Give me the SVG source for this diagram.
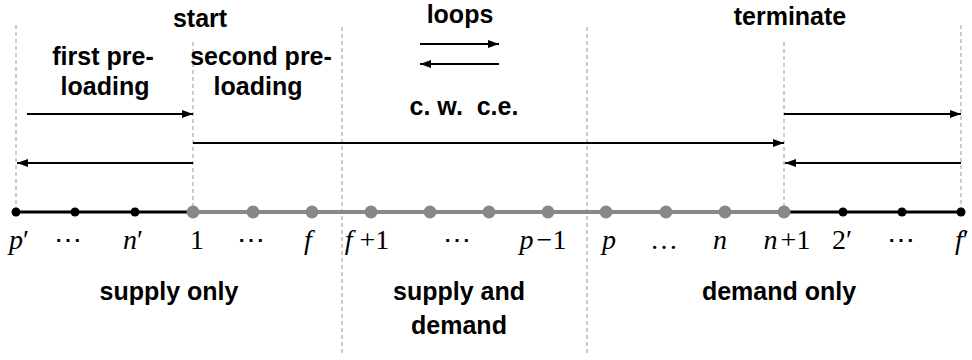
<svg xmlns="http://www.w3.org/2000/svg" width="972" height="360" viewBox="0 0 972 360">
<defs>
<marker id="ah" markerUnits="userSpaceOnUse" markerWidth="12" markerHeight="10" refX="11" refY="5" orient="auto">
<path d="M0,1 L11,5 L0,9 Z" fill="#000"/>
</marker>
<style>
.lbl{font-family:"Liberation Sans",Arial,sans-serif;font-weight:bold;font-size:25px;fill:#000;text-anchor:middle}
.m{font-family:"Liberation Serif","Times New Roman",serif;font-size:28px;fill:#000;text-anchor:middle}
.i{font-style:italic}
.dash{stroke:#999;stroke-width:1;stroke-dasharray:4 3;fill:none}
.arr{stroke:#000;stroke-width:2;fill:none;marker-end:url(#ah)}
.bd{fill:#000}
.gd{fill:#888}
</style>
</defs>
<rect width="972" height="360" fill="#fff"/>
<g id="guides">
<line class="dash" x1="16" y1="25" x2="16" y2="212"/>
<line class="dash" x1="193" y1="42" x2="193" y2="212"/>
<line class="dash" x1="342" y1="27" x2="342" y2="356"/>
<line class="dash" x1="587" y1="27" x2="587" y2="356"/>
<line class="dash" x1="784" y1="42" x2="784" y2="212"/>
<line class="dash" x1="961" y1="25" x2="961" y2="212"/>
</g>
<g id="connectors">
<line class="arr" x1="27" y1="114" x2="193" y2="114"/>
<line class="arr" x1="193" y1="163" x2="17" y2="163"/>
<line class="arr" x1="193" y1="143" x2="784" y2="143"/>
<line class="arr" x1="784" y1="114" x2="961" y2="114"/>
<line class="arr" x1="961" y1="163" x2="785" y2="163"/>
<line class="arr" x1="420" y1="44" x2="499" y2="44"/>
<line class="arr" x1="499" y1="64" x2="420" y2="64"/>
</g>
<g id="axis">
<line x1="16" y1="212" x2="193" y2="212" stroke="#000" stroke-width="3"/>
<line x1="784" y1="212" x2="961" y2="212" stroke="#000" stroke-width="3"/>
<line x1="193" y1="212" x2="784" y2="212" stroke="#888" stroke-width="4"/>
</g>
<g id="nodes">
<circle class="bd" cx="16" cy="212" r="4.5"/>
<circle class="bd" cx="75" cy="212" r="4.5"/>
<circle class="bd" cx="135" cy="212" r="4.5"/>
<circle class="gd" cx="193" cy="212" r="6.5"/>
<circle class="gd" cx="253" cy="212" r="6.5"/>
<circle class="gd" cx="312" cy="212" r="6.5"/>
<circle class="gd" cx="371" cy="212" r="6.5"/>
<circle class="gd" cx="430" cy="212" r="6.5"/>
<circle class="gd" cx="489" cy="212" r="6.5"/>
<circle class="gd" cx="548" cy="212" r="6.5"/>
<circle class="gd" cx="606" cy="212" r="6.5"/>
<circle class="gd" cx="666" cy="212" r="6.5"/>
<circle class="gd" cx="725" cy="212" r="6.5"/>
<circle class="gd" cx="784" cy="212" r="6.5"/>
<circle class="bd" cx="843" cy="212" r="4.5"/>
<circle class="bd" cx="902" cy="212" r="4.5"/>
<circle class="bd" cx="961" cy="212" r="4.5"/>
</g>
<g id="node-labels">
<text class="m" x="19" y="249"><tspan class="i">p</tspan>′</text>
<text class="m" x="68" y="249">⋯</text>
<text class="m" x="133" y="249"><tspan class="i">n</tspan>′</text>
<text class="m" x="197" y="249">1</text>
<text class="m" x="251" y="249">⋯</text>
<text class="m i" x="308" y="249">f</text>
<text class="m" x="367" y="249"><tspan class="i">f</tspan> +1</text>
<text class="m" x="457" y="249">⋯</text>
<text class="m" x="543" y="249"><tspan class="i">p</tspan><tspan dx="3">−</tspan>1</text>
<text class="m i" x="609" y="249">p</text>
<text class="m" x="664" y="249">…</text>
<text class="m i" x="720" y="249">n</text>
<text class="m" x="787" y="249"><tspan class="i">n</tspan><tspan dx="3">+</tspan>1</text>
<text class="m" x="842" y="249">2′</text>
<text class="m" x="901" y="249">⋯</text>
<text class="m" x="962" y="249"><tspan class="i">f</tspan>′</text>
</g>
<g id="labels">
<text class="lbl" x="200" y="27">start</text>
<text class="lbl" x="103" y="65">first pre-</text>
<text class="lbl" x="105" y="95">loading</text>
<text class="lbl" x="261" y="65">second pre-</text>
<text class="lbl" x="258" y="95">loading</text>
<text class="lbl" x="460" y="23">loops</text>
<text class="lbl" x="464" y="115">c. w. &#160;c.e.</text>
<text class="lbl" x="790" y="25">terminate</text>
<text class="lbl" x="169" y="300">supply only</text>
<text class="lbl" x="459" y="300">supply and</text>
<text class="lbl" x="459" y="334">demand</text>
<text class="lbl" x="779" y="300">demand only</text>
</g>
</svg>
